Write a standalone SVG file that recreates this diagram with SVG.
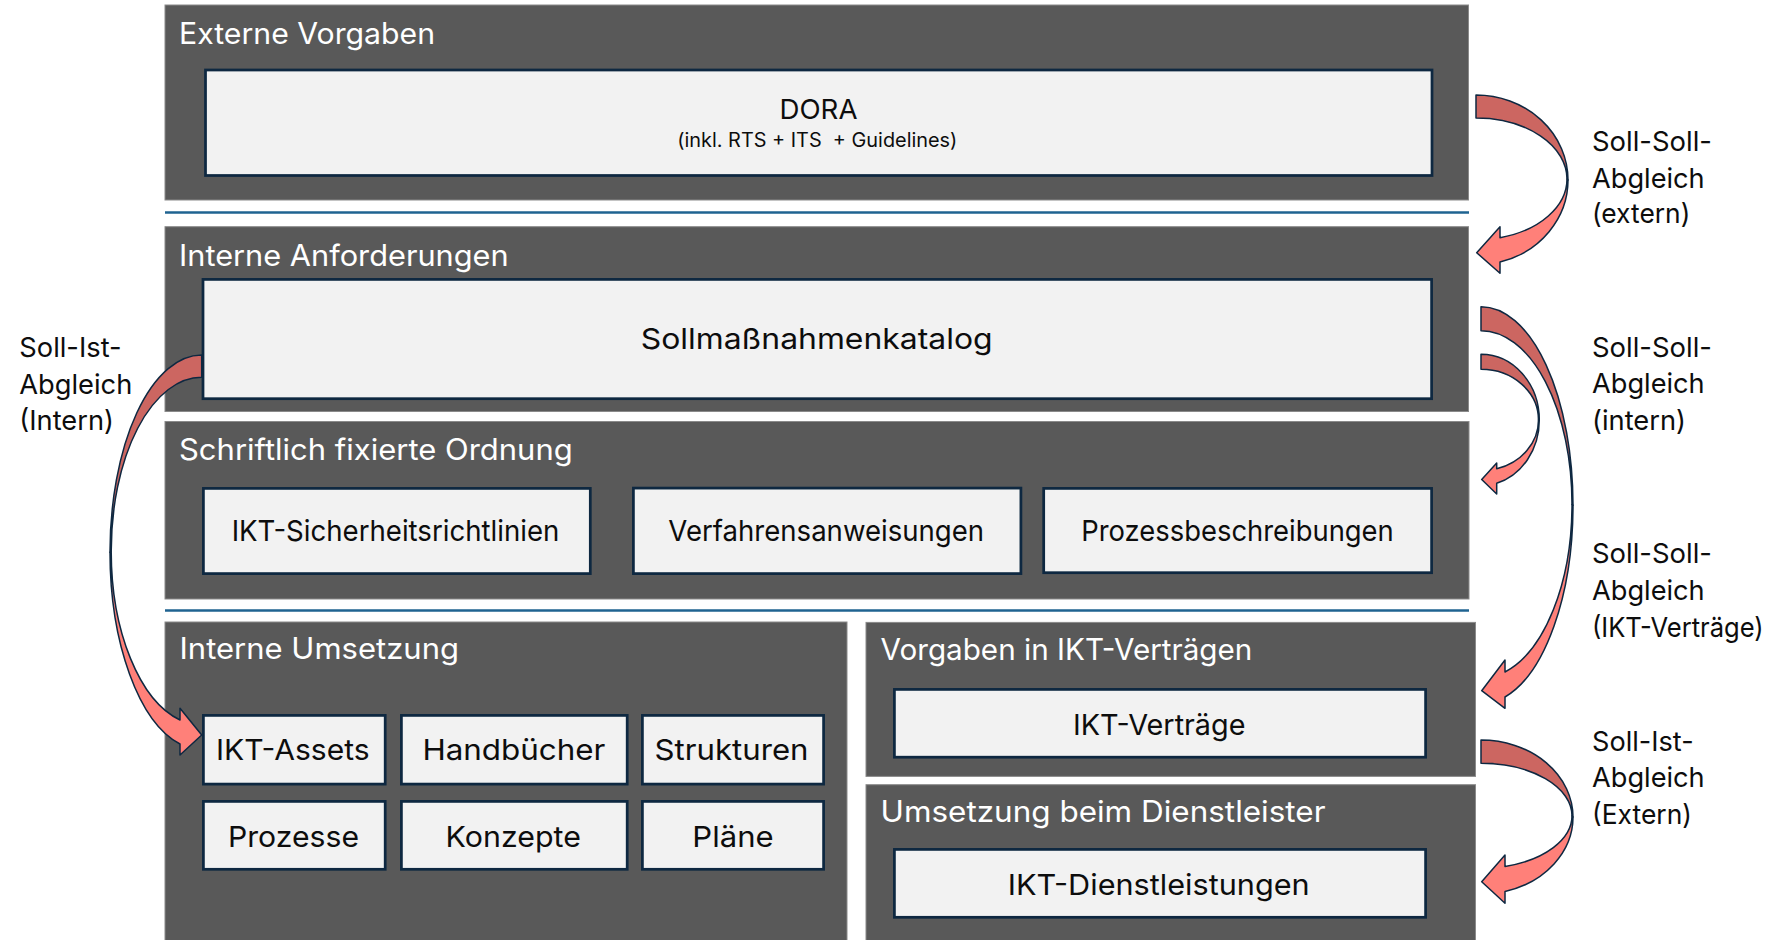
<svg xmlns="http://www.w3.org/2000/svg" width="1792" height="940" viewBox="0 0 1792 940">
<defs>
<style>
.panel{fill:#595959;stroke:#8a8a8a;stroke-width:1}
.box{fill:#f2f2f2;stroke:#0e2841;stroke-width:2.75}
.sep{stroke:#1f6391;stroke-width:2.5}
.title{font-family:Inter,'Liberation Sans',sans-serif;font-size:29.5px;fill:#ffffff}
.bt{font-family:Inter,'Liberation Sans',sans-serif;font-size:29px;fill:#0d0d0d;text-anchor:middle}
.lbl{font-family:Inter,'Liberation Sans',sans-serif;font-size:27.5px;fill:#0d0d0d}
.back{fill:#cc6661;stroke:#0e2841;stroke-width:1.5;stroke-linejoin:round}
.front{fill:#ff8079;stroke:#0e2841;stroke-width:1.5;stroke-linejoin:round}
</style>
</defs>
<rect width="1792" height="940" fill="#ffffff"/>

<g id="separators">
<line class="sep" x1="165" y1="212.5" x2="1469" y2="212.5"/>
<line class="sep" x1="165" y1="610.5" x2="1469" y2="610.5"/>
</g>

<g id="externe-vorgaben">
<rect class="panel" x="165" y="5" width="1303.5" height="195"/>
<text class="title" x="179" y="44" textLength="256" lengthAdjust="spacingAndGlyphs">Externe Vorgaben</text>
<g id="dora">
<rect class="box" x="205.5" y="70" width="1226.5" height="105.5"/>
<text class="bt" x="818.5" y="119.3" style="font-size:27.5px" textLength="78" lengthAdjust="spacingAndGlyphs">DORA</text>
<text class="bt" x="817.3" y="147.3" style="font-size:19.5px;white-space:pre" xml:space="preserve" textLength="280" lengthAdjust="spacingAndGlyphs">(inkl. RTS + ITS  + Guidelines)</text>
</g>
</g>

<g id="interne-anforderungen">
<rect class="panel" x="165" y="226.7" width="1303.5" height="184.8"/>
<text class="title" x="179" y="265.7" textLength="329.7" lengthAdjust="spacingAndGlyphs">Interne Anforderungen</text>
<g id="sollmassnahmenkatalog">
<rect class="box" x="203" y="279.4" width="1228.6" height="119.3"/>
<text class="bt" x="816.7" y="349.3" textLength="352" lengthAdjust="spacingAndGlyphs">Sollmaßnahmenkatalog</text>
</g>
</g>

<g id="schriftlich-fixierte-ordnung">
<rect class="panel" x="165" y="421.5" width="1304" height="177.5"/>
<text class="title" x="179" y="460" textLength="393.7" lengthAdjust="spacingAndGlyphs">Schriftlich fixierte Ordnung</text>
<g id="ikt-sicherheitsrichtlinien">
<rect class="box" x="203.4" y="488.4" width="386.9" height="85.2"/>
<text class="bt" x="395.5" y="540.5" textLength="327.7" lengthAdjust="spacingAndGlyphs">IKT-Sicherheitsrichtlinien</text>
</g>
<g id="verfahrensanweisungen">
<rect class="box" x="633.4" y="488.1" width="387.5" height="85.5"/>
<text class="bt" x="826.2" y="541" textLength="315.7" lengthAdjust="spacingAndGlyphs">Verfahrensanweisungen</text>
</g>
<g id="prozessbeschreibungen">
<rect class="box" x="1043.7" y="488.4" width="387.9" height="84.3"/>
<text class="bt" x="1237.5" y="540.5" textLength="312.5" lengthAdjust="spacingAndGlyphs">Prozessbeschreibungen</text>
</g>
</g>

<g id="interne-umsetzung">
<rect class="panel" x="165" y="622" width="682" height="330"/>
<text class="title" x="179.5" y="659" textLength="279.5" lengthAdjust="spacingAndGlyphs">Interne Umsetzung</text>
<g id="ikt-assets">
<rect class="box" x="203.4" y="715.4" width="181.8" height="68.7"/>
<text class="bt" x="292.8" y="760.3" textLength="153.6" lengthAdjust="spacingAndGlyphs">IKT-Assets</text>
</g>
<g id="handbuecher">
<rect class="box" x="401.4" y="715.4" width="225.8" height="68.7"/>
<text class="bt" x="513.9" y="760.3" textLength="183" lengthAdjust="spacingAndGlyphs">Handbücher</text>
</g>
<g id="strukturen">
<rect class="box" x="642.4" y="715.4" width="181.2" height="68.7"/>
<text class="bt" x="731.5" y="760.3" textLength="154" lengthAdjust="spacingAndGlyphs">Strukturen</text>
</g>
<g id="prozesse">
<rect class="box" x="203.4" y="801.4" width="181.8" height="67.9"/>
<text class="bt" x="293.5" y="846.6" textLength="131" lengthAdjust="spacingAndGlyphs">Prozesse</text>
</g>
<g id="konzepte">
<rect class="box" x="401.4" y="801.4" width="225.8" height="67.9"/>
<text class="bt" x="513.2" y="846.6" textLength="135.3" lengthAdjust="spacingAndGlyphs">Konzepte</text>
</g>
<g id="plaene">
<rect class="box" x="642.4" y="801.4" width="181.2" height="67.9"/>
<text class="bt" x="733" y="846.6" textLength="81.3" lengthAdjust="spacingAndGlyphs">Pläne</text>
</g>
</g>

<g id="vorgaben-ikt-vertraege">
<rect class="panel" x="866" y="622.4" width="609.5" height="154"/>
<text class="title" x="880.5" y="660.3" textLength="371.8" lengthAdjust="spacingAndGlyphs">Vorgaben in IKT-Verträgen</text>
<g id="ikt-vertraege">
<rect class="box" x="894.4" y="689.4" width="531.2" height="67.8"/>
<text class="bt" x="1159.2" y="734.5" textLength="172.5" lengthAdjust="spacingAndGlyphs">IKT-Verträge</text>
</g>
</g>

<g id="umsetzung-dienstleister">
<rect class="panel" x="866" y="784.7" width="609.5" height="170"/>
<text class="title" x="880.5" y="822.4" textLength="445" lengthAdjust="spacingAndGlyphs">Umsetzung beim Dienstleister</text>
<g id="ikt-dienstleistungen">
<rect class="box" x="894.4" y="849.4" width="531.2" height="67.9"/>
<text class="bt" x="1158.7" y="894.8" textLength="302" lengthAdjust="spacingAndGlyphs">IKT-Dienstleistungen</text>
</g>
</g>

<g id="connectors">
<g id="arrow-soll-soll-extern">
<path class="back" d="M1476,95 A92,85 0 0 1 1568,180 L1567,179 A91,61 0 0 0 1476,118 Z"/>
<path class="front" d="M1568,180 A92,85 0 0 1 1500,262.1 L1500,273.3 L1476.7,252.7 L1500,226.7 L1500,237.8 A91,61 0 0 0 1567,179 Z"/>
</g>
<g id="arrow-soll-soll-intern">
<path class="back" d="M1481,354.3 A58.3,65.7 0 0 1 1539.3,420 L1538.5,420 A57.5,50.7 0 0 0 1481,369.3 Z"/>
<path class="front" d="M1539.3,420 A58.3,65.7 0 0 1 1496.7,483.3 L1496.7,494 L1481.7,479.5 L1496.7,463 L1496.7,468.8 A57.5,50.7 0 0 0 1538.5,420 Z"/>
</g>
<g id="arrow-soll-soll-ikt-vertraege">
<path class="back" d="M1481,306.7 A92,198.6 0 0 1 1573,505.3 L1572,504.4 A91,173.7 0 0 0 1481,330.7 Z"/>
<path class="front" d="M1573,505.3 A92,198.6 0 0 1 1505,697 L1505,708.3 L1481.7,690.7 L1505,660 L1505,672 A91,173.7 0 0 0 1572,504.4 Z"/>
</g>
<g id="arrow-soll-ist-extern">
<path class="back" d="M1481,740 A92,77.1 0 0 1 1573,817.1 L1572,815.8 A91,52.5 0 0 0 1481,763.3 Z"/>
<path class="front" d="M1573,817.1 A92,77.1 0 0 1 1505,891.5 L1505,903.3 L1481.7,881.7 L1505,855 L1505,866.4 A91,52.5 0 0 0 1572,815.8 Z"/>
</g>
<g id="arrow-soll-ist-intern">
<path class="back" d="M201.7,355 A91.7,197.3 0 0 0 110,552.3 L111.2,551.2 A90.5,173.9 0 0 1 201.7,377.3 Z"/>
<path class="front" d="M110,552.3 A91.7,197.3 0 0 0 180,744 L180,755 L201.7,735 L180,708.3 L180,720 A90.5,173.9 0 0 1 111.2,551.2 Z"/>
</g>
</g>

<g id="labels">
<text class="lbl" x="1592" y="150.7" textLength="120" lengthAdjust="spacingAndGlyphs">Soll-Soll-</text>
<text class="lbl" x="1592" y="187.5" textLength="112.7" lengthAdjust="spacingAndGlyphs">Abgleich</text>
<text class="lbl" x="1592" y="223.3" textLength="98.3" lengthAdjust="spacingAndGlyphs">(extern)</text>
<text class="lbl" x="1592" y="356.7" textLength="120" lengthAdjust="spacingAndGlyphs">Soll-Soll-</text>
<text class="lbl" x="1592" y="393.3" textLength="112.7" lengthAdjust="spacingAndGlyphs">Abgleich</text>
<text class="lbl" x="1592" y="430" textLength="94" lengthAdjust="spacingAndGlyphs">(intern)</text>
<text class="lbl" x="1592" y="563.3" textLength="120" lengthAdjust="spacingAndGlyphs">Soll-Soll-</text>
<text class="lbl" x="1592" y="600" textLength="112.7" lengthAdjust="spacingAndGlyphs">Abgleich</text>
<text class="lbl" x="1592" y="636.7" textLength="171.7" lengthAdjust="spacingAndGlyphs">(IKT-Verträge)</text>
<text class="lbl" x="1592" y="750.7" textLength="101.7" lengthAdjust="spacingAndGlyphs">Soll-Ist-</text>
<text class="lbl" x="1592" y="787.3" textLength="112.7" lengthAdjust="spacingAndGlyphs">Abgleich</text>
<text class="lbl" x="1592" y="824" textLength="100" lengthAdjust="spacingAndGlyphs">(Extern)</text>
<text class="lbl" x="19.3" y="357.3" textLength="102.3" lengthAdjust="spacingAndGlyphs">Soll-Ist-</text>
<text class="lbl" x="19.3" y="394" textLength="113" lengthAdjust="spacingAndGlyphs">Abgleich</text>
<text class="lbl" x="19.3" y="430" textLength="94.7" lengthAdjust="spacingAndGlyphs">(Intern)</text>
</g>
</svg>
